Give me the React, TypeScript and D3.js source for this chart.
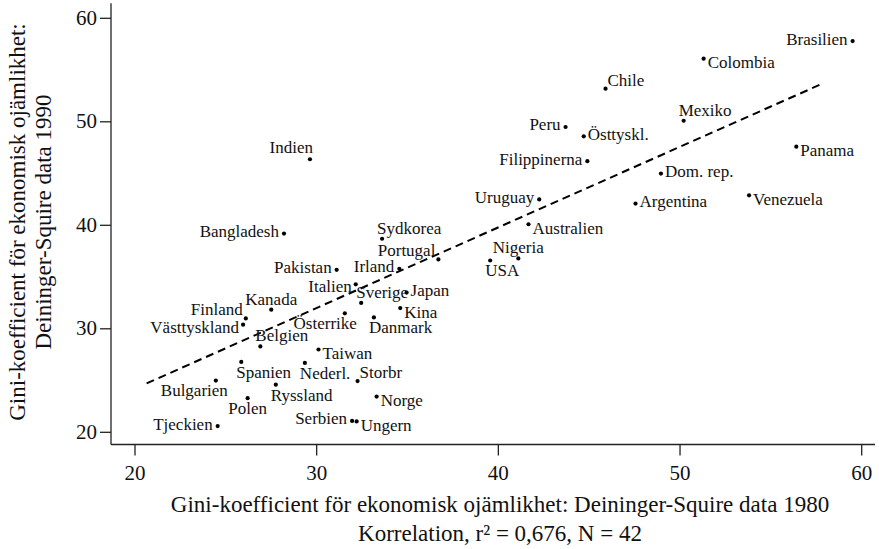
import React from "react";
import * as d3 from "d3";

const countries = [
  "Brasilien", "Colombia", "Chile", "Mexiko", "Peru", "Östtyskl.", "Filippinerna", "Panama",
  "Dom. rep.", "Uruguay", "Argentina", "Venezuela", "Australien", "Nigeria", "USA", "Indien",
  "Bangladesh", "Sydkorea", "Portugal", "Pakistan", "Irland", "Italien", "Japan", "Sverige",
  "Kina", "Kanada", "Finland", "Västtyskland", "Österrike", "Danmark", "Belgien", "Taiwan",
  "Spanien", "Nederl.", "Bulgarien", "Storbr", "Ryssland", "Polen", "Norge", "Tjeckien",
  "Serbien", "Ungern",
];
const gini1980 = [
  59.5, 51.3, 45.9, 50.2, 43.7, 44.7, 44.9, 56.4,
  48.95, 42.25, 47.55, 53.8, 41.66, 41.1, 39.55, 29.63,
  28.2, 33.6, 36.7, 31.1, 34.55, 32.15, 34.95, 32.45,
  34.6, 27.5, 26.1, 25.95, 31.55, 33.15, 26.9, 30.1,
  25.85, 29.35, 24.45, 32.25, 27.75, 26.2, 33.3, 24.55,
  31.95, 32.2,
];
const gini1990 = [
  57.8, 56.1, 53.2, 50.1, 49.5, 48.6, 46.2, 47.6,
  45.0, 42.5, 42.1, 42.9, 40.1, 36.8, 36.6, 46.38,
  39.2, 38.7, 36.7, 35.7, 35.8, 34.3, 33.5, 32.5,
  32.0, 31.85, 31.0, 30.4, 31.5, 31.1, 28.3, 28.0,
  26.8, 26.7, 25.0, 24.95, 24.6, 23.3, 23.45, 20.6,
  21.1, 21.05,
];
// label clock positions (as in Stata mlabvposition)
const labelClock = [
  9, 4, 2, 1, 9, 3, 9, 4,
  3, 9, 3, 4, 4, 12, 5, 11,
  9, 1, 10, 9, 9, 8, 3, 1,
  4, 12, 10, 8, 7, 5, 1, 4,
  5, 5, 7, 2, 5, 6, 4, 9,
  9, 4,
];
const xTicks = [20, 30, 40, 50, 60];
const yTicks = [20, 30, 40, 50, 60];
const fitX = [20.64, 57.75];
const fitY = [24.73, 53.62];

const xTitle1 = "Gini-koefficient för ekonomisk ojämlikhet: Deininger-Squire data 1980";
const xTitle2 = "Korrelation, r² = 0,676, N = 42";
const yTitle1 = "Gini-koefficient för ekonomisk ojämlikhet:";
const yTitle2 = "Deininger-Squire data 1990";

const FONT = "'Liberation Serif', 'Times New Roman', serif";

const clockOffsets: Record<number, { anchor: string; dx: number; dy: number }> = {
  1: { anchor: "start", dx: -5, dy: -5 },
  2: { anchor: "start", dx: 2, dy: -3 },
  3: { anchor: "start", dx: 4, dy: 3.5 },
  4: { anchor: "start", dx: 4, dy: 9.5 },
  5: { anchor: "start", dx: -5, dy: 16 },
  6: { anchor: "middle", dx: 0, dy: 16 },
  7: { anchor: "end", dx: 12, dy: 15.5 },
  8: { anchor: "end", dx: -4, dy: 8 },
  9: { anchor: "end", dx: -5, dy: 3.5 },
  10: { anchor: "end", dx: -3, dy: -3 },
  11: { anchor: "end", dx: 3, dy: -6 },
  12: { anchor: "middle", dx: 0, dy: -5 },
};

export default function App() {
  const W = 879;
  const H = 549;
  const plotLeft = 111;
  const plotRight = 875;
  const plotTop = 3.3;
  const plotBottom = 444.5;

  const x = d3.scaleLinear().domain([20, 60]).range([135, 861.7]);
  const y = d3.scaleLinear().domain([20, 60]).range([432.3, 18.3]);

  const line = d3
    .line<number>()
    .x((_, i) => x(fitX[i]))
    .y((d) => y(d));

  const xMid = 500;
  const yMid = 222;

  return (
    <svg
      width={W}
      height={H}
      style={{ position: "absolute", left: 0, top: 0, background: "#fff" }}
      fontFamily={FONT}
    >
      <rect x={0} y={0} width={W} height={H} fill="#fff" />
      {/* axes */}
      <line x1={plotLeft} x2={plotLeft} y1={plotTop} y2={plotBottom} stroke="#222" strokeWidth={1.3} />
      <line x1={plotLeft} x2={plotRight} y1={plotBottom} y2={plotBottom} stroke="#222" strokeWidth={1.3} />
      {yTicks.map((t) => (
        <g key={"y" + t}>
          <line x1={plotLeft - 11} x2={plotLeft} y1={y(t)} y2={y(t)} stroke="#222" strokeWidth={1.3} />
          <text x={plotLeft - 14} y={y(t) + 6.5} textAnchor="end" fontSize={21} fill="#111">
            {t}
          </text>
        </g>
      ))}
      {xTicks.map((t) => (
        <g key={"x" + t}>
          <line x1={x(t)} x2={x(t)} y1={plotBottom} y2={plotBottom + 11} stroke="#222" strokeWidth={1.3} />
          <text x={x(t)} y={480} textAnchor="middle" fontSize={21} fill="#111">
            {t}
          </text>
        </g>
      ))}
      {/* fit line */}
      <path d={line(fitY) || ""} fill="none" stroke="#000" strokeWidth={2} strokeDasharray="8,5" />
      {/* points */}
      {countries.map((c, i) => {
        const px = x(gini1980[i]);
        const py = y(gini1990[i]);
        const o = clockOffsets[labelClock[i]];
        return (
          <g key={c}>
            <circle cx={px} cy={py} r={2.1} fill="#000" />
            <text x={px + o.dx} y={py + o.dy} textAnchor={o.anchor as any} fontSize={17} fill="#111">
              {c}
            </text>
          </g>
        );
      })}
      {/* titles */}
      <text x={xMid} y={512} textAnchor="middle" fontSize={23} fill="#111">
        {xTitle1}
      </text>
      <text x={xMid} y={541} textAnchor="middle" fontSize={23} fill="#111">
        {xTitle2}
      </text>
      <text transform={`translate(25,${yMid}) rotate(-90)`} textAnchor="middle" fontSize={23} fill="#111">
        {yTitle1}
      </text>
      <text transform={`translate(51,${yMid}) rotate(-90)`} textAnchor="middle" fontSize={23} fill="#111">
        {yTitle2}
      </text>
    </svg>
  );
}
